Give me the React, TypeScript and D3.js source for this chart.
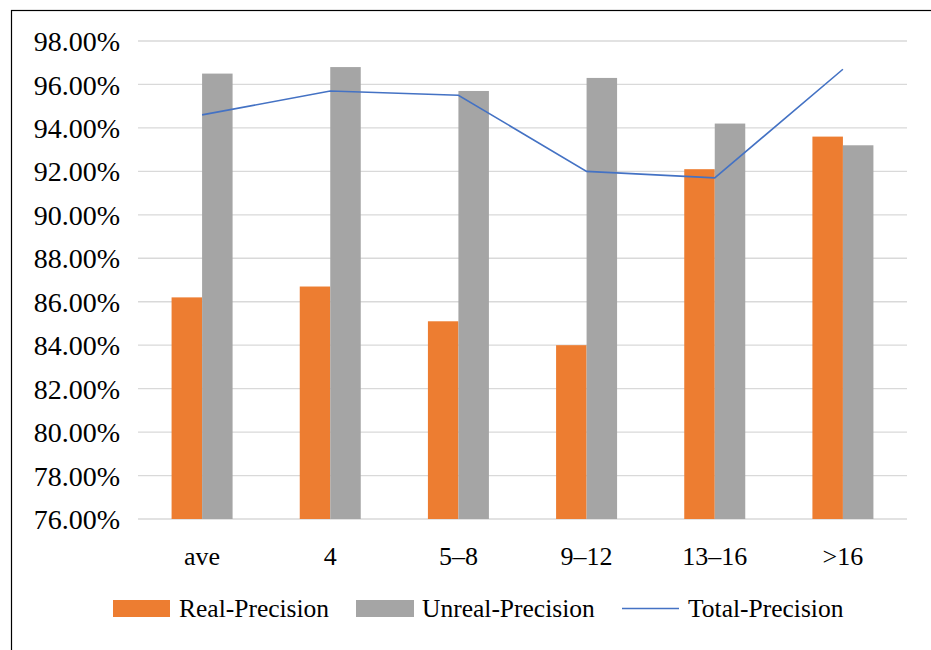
import React from "react";
import * as d3 from "d3";

const categories = ["ave", "4", "5–8", "9–12", "13–16", ">16"];
const realPrecision = [86.2, 86.7, 85.1, 84.0, 92.1, 93.6];
const unrealPrecision = [96.5, 96.8, 95.7, 96.3, 94.2, 93.2];
const totalPrecision = [94.6, 95.7, 95.5, 92.0, 91.7, 96.7];
const yTicks = [76, 78, 80, 82, 84, 86, 88, 90, 92, 94, 96, 98];
const seriesNames = ["Real-Precision", "Unreal-Precision", "Total-Precision"];

const W = 931;
const H = 650;
const plot = { left: 138, right: 907, top: 41, bottom: 519 };
const FONT = "'Liberation Serif', 'Times New Roman', serif";
const ORANGE = "#ED7D31";
const GRAY = "#A5A5A5";
const BLUE = "#4472C4";

export default function App() {
  const x = d3.scaleBand<string>().domain(categories).range([plot.left, plot.right]).padding(0);
  const y = d3.scaleLinear().domain([76, 98]).range([plot.bottom, plot.top]);
  const barW = 30.5;
  const cx = (c: string) => (x(c) as number) + x.bandwidth() / 2;

  const line = d3
    .line<number>()
    .x((_, i) => cx(categories[i]))
    .y((d) => y(d));

  const textStyle = { fontFamily: FONT };

  return (
    <svg
      width={W}
      height={H}
      style={{ position: "absolute", left: 0, top: 0, display: "block", background: "#fff" }}
    >
      <rect x={0} y={0} width={W} height={H} fill="#fff" />
      <rect x={11.5} y={10.5} width={1000} height={1000} fill="none" stroke="#000" strokeWidth={1.2} />

      {yTicks.map((t) => (
        <g key={t}>
          <line x1={plot.left} x2={plot.right} y1={y(t)} y2={y(t)} stroke="#d9d9d9" strokeWidth={1.3} />
          <text x={120} y={y(t)} dy="0.36em" textAnchor="end" style={textStyle} fontSize={28} fill="#000">
            {t.toFixed(2)}%
          </text>
        </g>
      ))}

      {categories.map((c, i) => (
        <g key={c}>
          <rect
            x={cx(c) - barW}
            y={y(realPrecision[i])}
            width={barW}
            height={y(76) - y(realPrecision[i])}
            fill={ORANGE}
          />
          <rect
            x={cx(c)}
            y={y(unrealPrecision[i])}
            width={barW}
            height={y(76) - y(unrealPrecision[i])}
            fill={GRAY}
          />
          <text x={cx(c)} y={565} textAnchor="middle" style={textStyle} fontSize={26} fill="#000">
            {c}
          </text>
        </g>
      ))}

      <path d={line(totalPrecision) || ""} fill="none" stroke={BLUE} strokeWidth={1.6} />

      {/* legend */}
      <rect x={113} y={600} width={57} height={17} fill={ORANGE} />
      <text x={179} y={617} style={textStyle} fontSize={25.5} fill="#000">
        {seriesNames[0]}
      </text>
      <rect x={356} y={600} width={58} height={17} fill={GRAY} />
      <text x={422} y={617} style={textStyle} fontSize={25.5} fill="#000">
        {seriesNames[1]}
      </text>
      <line x1={622} x2={679} y1={608.5} y2={608.5} stroke={BLUE} strokeWidth={1.6} />
      <text x={688} y={617} style={textStyle} fontSize={25.5} fill="#000">
        {seriesNames[2]}
      </text>
    </svg>
  );
}
